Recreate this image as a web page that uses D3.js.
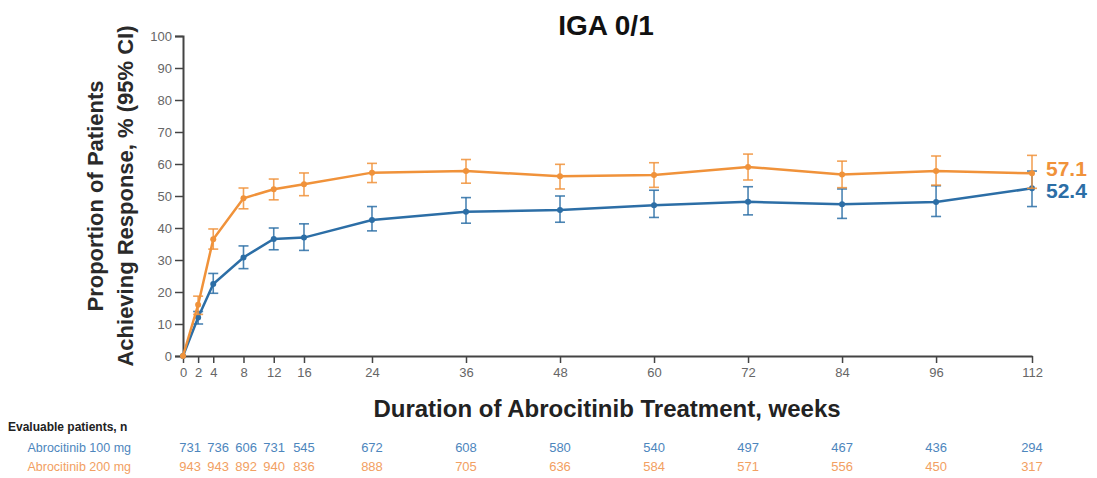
<!DOCTYPE html>
<html>
<head>
<meta charset="utf-8">
<script src="https://cdn.jsdelivr.net/npm/d3@7"></script>
<style>
  body { margin: 0; background: #fff; }
  svg { display: block; font-family: "Liberation Sans", Arial, sans-serif; }
  .narrow { font-family: "Liberation Sans Narrow", "Arial Narrow", "Liberation Sans", sans-serif; }
</style>
</head>
<body>
<div id="chart"></div>
<script>
// the data
const weeks = [0, 2, 4, 8, 12, 16, 24, 36, 48, 60, 72, 84, 96, 112];
const dose200 = [0, 16, 36.5, 49.3, 52.1, 53.7, 57.3, 57.8, 56.2, 56.6, 59.1, 56.7, 57.8, 57.1];
const dose200Low = [0, 13, 33.4, 46.0, 48.8, 50.1, 54.2, 54.0, 52.2, 52.7, 55.0, 52.6, 53.4, 52.4];
const dose200High = [0, 18.7, 39.7, 52.5, 55.3, 57.2, 60.2, 61.4, 59.9, 60.4, 63.1, 60.9, 62.5, 62.7];
const dose100 = [0, 12, 22.5, 30.8, 36.6, 37, 42.5, 45.1, 45.6, 47.1, 48.2, 47.4, 48.1, 52.4];
const dose100Low = [0, 10, 19.6, 27.3, 33.2, 33, 39.1, 41.5, 41.8, 43.3, 44.1, 43.0, 43.6, 46.7];
const dose100High = [0, 13.9, 25.8, 34.4, 40, 41.3, 46.7, 49.5, 50, 51.8, 52.9, 52.2, 53.2, 57.8];
const yTicks = [0, 10, 20, 30, 40, 50, 60, 70, 80, 90, 100];

// evaluable patients table (from week 2 on)
const tableWeeks = [2, 4, 8, 12, 16, 24, 36, 48, 60, 72, 84, 96, 112];
const n100 = [731, 736, 606, 731, 545, 672, 608, 580, 540, 497, 467, 436, 294];
const n200 = [943, 943, 892, 940, 836, 888, 705, 636, 584, 571, 556, 450, 317];

const width = 1097;
const height = 478;
const margin = { left: 183, right: 65, top: 36, bottom: 122 };
const plotW = width - margin.left - margin.right;

const orange = "#f0923a";
const blue = "#2c6ea6";
const orangeText = "#f2a062";
const blueText = "#4d86bd";

const svg = d3.select("#chart")
  .append("svg")
    .attr("width", width)
    .attr("height", height);

// x axis is stretched: early weeks get more room, then even steps of 12
const x = d3.scaleLinear()
  .domain([0, 16, 24, 96, 112])
  .range([0, 0.1425, 0.2226, 0.887, 1].map(f => margin.left + f * plotW));

const y = d3.scaleLinear()
  .domain([0, 100])
  .range([height - margin.bottom, margin.top]);

// title
svg.append("text")
  .attr("x", 606)
  .attr("y", 35)
  .attr("text-anchor", "middle")
  .attr("font-size", 28)
  .attr("font-weight", "bold")
  .attr("fill", "#111")
  .text("IGA 0/1");

// y axis
const yAxis = svg.append("g")
  .attr("transform", `translate(${margin.left},0)`)
  .call(d3.axisLeft(y).tickValues(yTicks).tickSize(8).tickPadding(3));
yAxis.select(".domain").attr("stroke", "#444").attr("stroke-width", 2);
yAxis.selectAll(".tick line").attr("stroke", "#444").attr("stroke-width", 1.5);
yAxis.selectAll(".tick text")
  .attr("class", "narrow")
  .attr("font-size", 13)
  .attr("fill", "#666");

// x axis
const xAxis = svg.append("g")
  .attr("transform", `translate(0,${y(0)})`)
  .call(d3.axisBottom(x).tickValues(weeks).tickSize(7).tickPadding(5).tickSizeOuter(0));
xAxis.select(".domain").attr("stroke", "#444").attr("stroke-width", 2);
xAxis.selectAll(".tick line").attr("stroke", "#444").attr("stroke-width", 1.5);
xAxis.selectAll(".tick text")
  .attr("class", "narrow")
  .attr("font-size", 13)
  .attr("fill", "#666");

// axis titles
const yTitle = svg.append("text")
  .attr("transform", `translate(103,196) rotate(-90)`)
  .attr("text-anchor", "middle")
  .attr("font-size", 22)
  .attr("font-weight", "bold")
  .attr("fill", "#2a2a2a");
yTitle.append("tspan").attr("x", 0).attr("dy", 0).text("Proportion of Patients");
yTitle.append("tspan").attr("x", 0).attr("dy", 30).text("Achieving Response, % (95% CI)");

svg.append("text")
  .attr("x", 607)
  .attr("y", 417)
  .attr("text-anchor", "middle")
  .attr("font-size", 24)
  .attr("font-weight", "bold")
  .attr("fill", "#222")
  .text("Duration of Abrocitinib Treatment, weeks");

// one group per dose
const series = [
  { values: dose100, low: dose100Low, high: dose100High, color: blue },
  { values: dose200, low: dose200Low, high: dose200High, color: orange }
];

const line = d3.line()
  .x((d, i) => x(weeks[i]))
  .y(d => y(d));

const capHalf = 5;

series.forEach(s => {
  const g = svg.append("g");

  // error bars
  const bars = g.selectAll(".err")
    .data(weeks.slice(1))
    .join("g")
      .attr("class", "err")
      .attr("stroke", s.color)
      .attr("stroke-opacity", 0.85)
      .attr("stroke-width", 1.6);
  bars.append("line")
    .attr("x1", d => x(d)).attr("x2", d => x(d))
    .attr("y1", (d, i) => y(s.low[i + 1]))
    .attr("y2", (d, i) => y(s.high[i + 1]));
  bars.append("line")
    .attr("x1", d => x(d) - capHalf).attr("x2", d => x(d) + capHalf)
    .attr("y1", (d, i) => y(s.high[i + 1]))
    .attr("y2", (d, i) => y(s.high[i + 1]));
  bars.append("line")
    .attr("x1", d => x(d) - capHalf).attr("x2", d => x(d) + capHalf)
    .attr("y1", (d, i) => y(s.low[i + 1]))
    .attr("y2", (d, i) => y(s.low[i + 1]));

  // the line
  g.append("path")
    .datum(s.values)
    .attr("fill", "none")
    .attr("stroke", s.color)
    .attr("stroke-width", 2.5)
    .attr("d", line);

  // markers
  g.selectAll("circle")
    .data(s.values)
    .join("circle")
      .attr("cx", (d, i) => x(weeks[i]))
      .attr("cy", d => y(d))
      .attr("r", 3)
      .attr("fill", s.color);
});

// end labels, nudged apart so they do not touch
const last = weeks.length - 1;
svg.append("text")
  .attr("x", x(weeks[last]) + 14)
  .attr("y", y(dose200[last]) - 3)
  .attr("dominant-baseline", "middle")
  .attr("font-size", 21)
  .attr("font-weight", "bold")
  .attr("fill", orange)
  .text(dose200[last].toFixed(1));
svg.append("text")
  .attr("x", x(weeks[last]) + 14)
  .attr("y", y(dose100[last]) + 4)
  .attr("dominant-baseline", "middle")
  .attr("font-size", 21)
  .attr("font-weight", "bold")
  .attr("fill", blue)
  .text(dose100[last].toFixed(1));

// table of evaluable patients
svg.append("text")
  .attr("class", "narrow")
  .attr("x", 8)
  .attr("y", 431)
  .attr("font-size", 12)
  .attr("font-weight", "bold")
  .attr("fill", "#222")
  .text("Evaluable patients, n");

// spread the crowded early labels so they do not overlap
const minGap = 28;
const labelX = tableWeeks.map(w => x(w));
for (let k = 0; k < 50; k++) {
  for (let i = 0; i < labelX.length - 1; i++) {
    const gap = labelX[i + 1] - labelX[i];
    if (gap < minGap) {
      const push = (minGap - gap) / 2;
      labelX[i] -= push;
      labelX[i + 1] += push;
    }
  }
}

const rows = [
  { name: "Abrocitinib 100 mg", values: n100, color: blueText, yPos: 452 },
  { name: "Abrocitinib 200 mg", values: n200, color: orangeText, yPos: 471 }
];

rows.forEach(r => {
  svg.append("text")
    .attr("class", "narrow")
    .attr("x", 131)
    .attr("y", r.yPos)
    .attr("text-anchor", "end")
    .attr("font-size", 12.5)
    .attr("fill", r.color)
    .text(r.name);

  svg.append("g")
    .selectAll("text")
    .data(r.values)
    .join("text")
      .attr("class", "narrow")
      .attr("x", (d, i) => labelX[i])
      .attr("y", r.yPos)
      .attr("text-anchor", "middle")
      .attr("font-size", 13)
      .attr("fill", r.color)
      .text(d => d);
});
</script>
</body>
</html>
